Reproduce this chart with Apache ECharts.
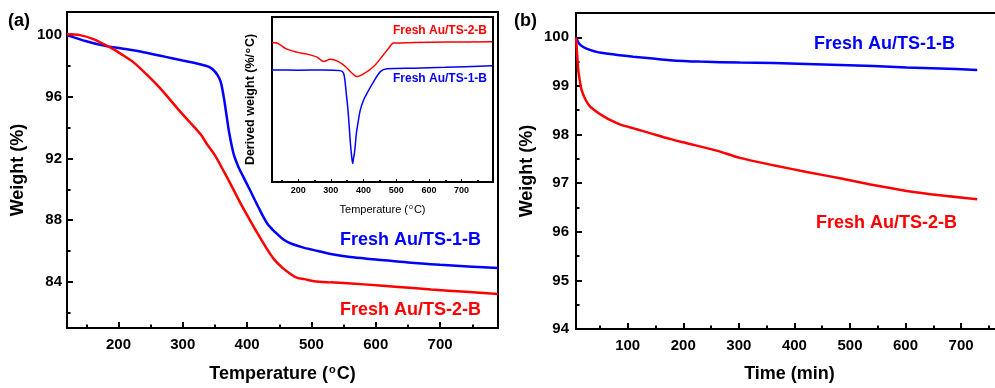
<!DOCTYPE html>
<html>
<head>
<meta charset="utf-8">
<script src="https://cdn.jsdelivr.net/npm/echarts@6/dist/echarts.min.js"></script>
<style>
html, body { margin: 0; padding: 0; background: #fff; }
#main { width: 995px; height: 388px; }
</style>
</head>
<body>
<div id="main"></div>
<script>
// (a) TGA weight vs temperature
const tempTS1 = [120, 150, 177, 210, 239, 270, 300, 328, 340, 348, 354, 359, 364, 368, 372, 379, 387, 393, 405, 418, 431, 444, 457, 470, 489, 510, 530, 560, 600, 650, 700, 750, 790];
const weightTS1 = [100, 99.6, 99.32, 99.1, 98.89, 98.62, 98.35, 98.1, 97.95, 97.72, 97.4, 96.97, 95.9, 94.8, 93.7, 92.3, 91.4, 90.9, 89.9, 88.8, 87.8, 87.2, 86.73, 86.45, 86.2, 86.0, 85.8, 85.6, 85.45, 85.25, 85.1, 84.98, 84.89];
const tempTS2 = [120, 140, 161, 187, 205, 223, 245, 265, 296, 312, 328, 338, 350, 362, 376, 390, 403, 416, 429, 442, 455, 468, 478, 489, 504, 530, 582, 630, 686, 740, 790];
const weightTS2 = [100.05, 100, 99.74, 99.2, 98.75, 98.25, 97.4, 96.54, 95.04, 94.3, 93.55, 92.9, 92.2, 91.3, 90.2, 89.07, 88.1, 87.15, 86.25, 85.45, 84.9, 84.49, 84.25, 84.17, 84.04, 83.96, 83.83, 83.68, 83.5, 83.35, 83.2];

// inset: derived weight (arbitrary units)
const dtgTempTS1 = [120, 200, 278, 329, 339, 344, 348, 351.5, 355, 357.7, 360, 362.7, 366.7, 369, 372, 375, 378, 384, 390, 400, 410.8, 431, 451.5, 472, 553, 650, 793];
const dtgTS1 = [67.9, 67.8, 67.9, 67.5, 65.9, 59.9, 52, 45.6, 37, 29.4, 23, 17.3, 11.2, 14, 17.3, 23, 29.4, 37, 43.6, 49.5, 53.8, 60.8, 66.9, 68.6, 69.0, 69.5, 70.4];
const dtgTempTS2 = [120, 135, 166, 196.5, 227, 257.7, 278, 298.5, 319, 344.4, 365, 380, 400, 431, 456.7, 477, 492, 553, 655.7, 793];
const dtgTS2 = [84.5, 84.2, 80.5, 78.7, 77.5, 75.7, 73.0, 74.4, 73.4, 70.0, 65.9, 63.9, 65.5, 70.0, 76.0, 81.1, 84.2, 84.5, 84.8, 85.0];

// (b) weight vs time
const timeTS1 = [7, 12, 20, 32, 44, 65, 86, 110, 140, 176, 230, 302, 362, 422, 482, 542, 602, 662, 729];
const isoTS1 = [100, 99.88, 99.8, 99.74, 99.7, 99.66, 99.63, 99.6, 99.57, 99.53, 99.5, 99.48, 99.47, 99.45, 99.43, 99.41, 99.38, 99.36, 99.33];
const timeTS2 = [7, 9, 11, 14, 17, 24, 32, 44, 56, 70, 86, 116, 140, 176, 200, 260, 302, 362, 422, 482, 542, 602, 662, 729];
const isoTS2 = [100, 99.66, 99.33, 99.1, 98.92, 98.72, 98.58, 98.47, 98.38, 98.29, 98.21, 98.11, 98.03, 97.91, 97.84, 97.67, 97.52, 97.37, 97.23, 97.1, 96.96, 96.84, 96.75, 96.67];

// tick positions
const tempMajor = [200, 300, 400, 500, 600, 700];
const tempMinor = [150, 250, 350, 450, 550, 650, 750];
const weightMajor = [84, 88, 92, 96, 100];
const weightMinor = [82, 86, 90, 94, 98];
const timeMajor = [100, 200, 300, 400, 500, 600, 700];
const timeMinor = [50, 150, 250, 350, 450, 550, 650, 750];
const isoMajor = [94, 95, 96, 97, 98, 99, 100];
const isoMinor = [94.5, 95.5, 96.5, 97.5, 98.5, 99.5];

const labels = ['Fresh Au/TS-1-B', 'Fresh Au/TS-2-B'];
const BLUE = '#0000ff';
const RED = '#ff0000';
const FONT = '"Liberation Sans", Arial, sans-serif';

function zip(xs, ys) {
    return xs.map((x, i) => [x, ys[i]]);
}

const supRich = {
    a: { fontFamily: FONT, fontWeight: 'bold', fontSize: 18, color: '#000' },
    s: { fontFamily: FONT, fontWeight: 'bold', fontSize: 11, color: '#000', padding: [0, 1, 9, 1] }
};
const supRichSmall = {
    a: { fontFamily: FONT, fontSize: 11, color: '#000' },
    s: { fontFamily: FONT, fontSize: 7, color: '#000', padding: [0, 1, 5, 1] }
};
const supRichInsetY = {
    a: { fontFamily: FONT, fontWeight: 'bold', fontSize: 12.5, color: '#000' },
    s: { fontFamily: FONT, fontWeight: 'bold', fontSize: 8, color: '#000', padding: [0, 1, 6, 1] }
};

function valueAxis(o) {
    return Object.assign({
        type: 'value',
        splitLine: { show: false },
        axisLine: { show: true, onZero: false, lineStyle: { color: '#000', width: 2 } },
        axisLabel: { show: true, fontFamily: FONT, fontWeight: 'bold', fontSize: 15, color: '#000' },
        axisTick: { show: true, inside: true, length: 6, lineStyle: { color: '#000', width: 2 } }
    }, o);
}

// overlay axis that only draws the short minor ticks
function minorAxis(o, values, len) {
    return Object.assign({
        type: 'value',
        splitLine: { show: false },
        axisLine: { show: false, onZero: false },
        axisLabel: { show: false },
        axisTick: { show: true, inside: true, length: len, customValues: values, lineStyle: { color: '#000', width: 2 } }
    }, o);
}

const chart = echarts.init(document.getElementById('main'), null, { renderer: 'canvas' });

const option = {
    animation: false,
    backgroundColor: '#fff',
    grid: [
        { left: 67, top: 12, width: 431, height: 321, show: true, borderColor: '#000', borderWidth: 2, backgroundColor: '#fff' },
        { left: 272, top: 17, width: 221, height: 165, show: true, borderColor: '#000', borderWidth: 2, backgroundColor: '#fff', z: 3 },
        { left: 576, top: 13, right: 0, height: 320, show: false }
    ],
    xAxis: [
        valueAxis({
            gridIndex: 0, min: 120, max: 790, position: 'bottom',
            axisLabel: { fontFamily: FONT, fontWeight: 'bold', fontSize: 15, color: '#000', margin: 9, customValues: tempMajor },
            axisTick: { show: true, inside: true, length: 6, customValues: tempMajor, lineStyle: { color: '#000', width: 2 } },
            name: '{a|Temperature (}{s|o}{a|C)}', nameLocation: 'middle', nameGap: 36,
            nameTextStyle: { rich: supRich }
        }),
        minorAxis({ gridIndex: 0, min: 120, max: 790, position: 'bottom' }, tempMinor, 3.5),
        valueAxis({
            gridIndex: 1, min: 120, max: 796, z: 4, position: 'bottom',
            axisLine: { show: true, onZero: false, lineStyle: { color: '#000', width: 1.5 } },
            axisLabel: { fontFamily: FONT, fontWeight: 'bold', fontSize: 9, color: '#000', margin: 4, customValues: tempMajor },
            axisTick: { show: true, inside: true, length: 3, customValues: tempMajor, lineStyle: { color: '#000', width: 1 } },
            name: '{a|Temperature (}{s|o}{a|C)}', nameLocation: 'middle', nameGap: 22,
            nameTextStyle: { rich: supRichSmall }
        }),
        minorAxis({ gridIndex: 1, min: 120, max: 796, z: 4, position: 'bottom' }, tempMinor, 2),
        valueAxis({
            gridIndex: 2, min: 7, max: 761, position: 'bottom',
            axisLabel: { fontFamily: FONT, fontWeight: 'bold', fontSize: 15, color: '#000', margin: 9, customValues: timeMajor },
            axisTick: { show: true, inside: true, length: 6, customValues: timeMajor, lineStyle: { color: '#000', width: 2 } },
            name: 'Time (min)', nameLocation: 'middle', nameGap: 36,
            nameTextStyle: { fontFamily: FONT, fontWeight: 'bold', fontSize: 18, color: '#000', padding: [0, 0, 0, 8] }
        }),
        minorAxis({ gridIndex: 2, min: 7, max: 761, position: 'bottom' }, timeMinor, 3.5),
        // top frame line of panel (b); its right edge is cut by the picture
        valueAxis({
            gridIndex: 2, min: 7, max: 761, position: 'top',
            axisLabel: { show: false }, axisTick: { show: false }
        })
    ],
    yAxis: [
        valueAxis({
            gridIndex: 0, min: 81, max: 101.5, position: 'left',
            axisLabel: { fontFamily: FONT, fontWeight: 'bold', fontSize: 15, color: '#000', margin: 5, customValues: weightMajor },
            axisTick: { show: true, inside: true, length: 6, customValues: weightMajor, lineStyle: { color: '#000', width: 2 } },
            name: 'Weight (%)', nameLocation: 'middle', nameGap: 40,
            nameTextStyle: { fontFamily: FONT, fontWeight: 'bold', fontSize: 18, color: '#000' }
        }),
        minorAxis({ gridIndex: 0, min: 81, max: 101.5, position: 'left' }, weightMinor, 3.5),
        valueAxis({
            gridIndex: 1, min: 0, max: 100, z: 4, position: 'left',
            axisLine: { show: true, onZero: false, lineStyle: { color: '#000', width: 1.5 } },
            axisLabel: { show: false },
            axisTick: { show: false },
            name: '{a|Derived weight (%/}{s|o}{a|C)}', nameLocation: 'middle', nameGap: 14,
            nameTextStyle: { rich: supRichInsetY }
        }),
        valueAxis({
            gridIndex: 2, min: 94, max: 100.5, position: 'left',
            axisLabel: { fontFamily: FONT, fontWeight: 'bold', fontSize: 15, color: '#000', margin: 7, customValues: isoMajor },
            axisTick: { show: true, inside: true, length: 6, customValues: isoMajor, lineStyle: { color: '#000', width: 2 } },
            name: 'Weight (%)', nameLocation: 'middle', nameGap: 40,
            nameTextStyle: { fontFamily: FONT, fontWeight: 'bold', fontSize: 18, color: '#000' }
        }),
        minorAxis({ gridIndex: 2, min: 94, max: 100.5, position: 'left' }, isoMinor, 3.5)
    ],
    series: [
        { type: 'line', name: labels[0], xAxisIndex: 0, yAxisIndex: 0, data: zip(tempTS1, weightTS1), smooth: 0.3, showSymbol: false, lineStyle: { color: BLUE, width: 2.5 } },
        { type: 'line', name: labels[1], xAxisIndex: 0, yAxisIndex: 0, data: zip(tempTS2, weightTS2), smooth: 0.3, showSymbol: false, lineStyle: { color: RED, width: 2.5 } },
        { type: 'line', name: labels[0], xAxisIndex: 2, yAxisIndex: 2, data: zip(dtgTempTS1, dtgTS1), smooth: 0.3, showSymbol: false, z: 5, lineStyle: { color: BLUE, width: 1.5 } },
        { type: 'line', name: labels[1], xAxisIndex: 2, yAxisIndex: 2, data: zip(dtgTempTS2, dtgTS2), smooth: 0.3, showSymbol: false, z: 5, lineStyle: { color: RED, width: 1.5 } },
        { type: 'line', name: labels[0], xAxisIndex: 4, yAxisIndex: 3, data: zip(timeTS1, isoTS1), smooth: 0.3, showSymbol: false, lineStyle: { color: BLUE, width: 2.5 } },
        { type: 'line', name: labels[1], xAxisIndex: 4, yAxisIndex: 3, data: zip(timeTS2, isoTS2), smooth: 0.3, showSymbol: false, lineStyle: { color: RED, width: 2.5 } }
    ],
    graphic: [
        { type: 'text', left: 8, top: 12, style: { text: '(a)', font: 'bold 18px ' + FONT, fill: '#000' } },
        { type: 'text', left: 514, top: 12, style: { text: '(b)', font: 'bold 18px ' + FONT, fill: '#000' } },
        { type: 'text', left: 340, top: 231, style: { text: labels[0], font: 'bold 18px ' + FONT, fill: BLUE } },
        { type: 'text', left: 340, top: 301, style: { text: labels[1], font: 'bold 18px ' + FONT, fill: RED } },
        { type: 'text', right: 995 - 487, top: 25, z: 10, style: { text: labels[1], font: 'bold 12px ' + FONT, fill: RED } },
        { type: 'text', right: 995 - 487, top: 73, z: 10, style: { text: labels[0], font: 'bold 12px ' + FONT, fill: BLUE } },
        { type: 'text', left: 814, top: 35, style: { text: labels[0], font: 'bold 18px ' + FONT, fill: BLUE } },
        { type: 'text', left: 816, top: 214, style: { text: labels[1], font: 'bold 18px ' + FONT, fill: RED } }
    ]
};

chart.setOption(option);
</script>
</body>
</html>
